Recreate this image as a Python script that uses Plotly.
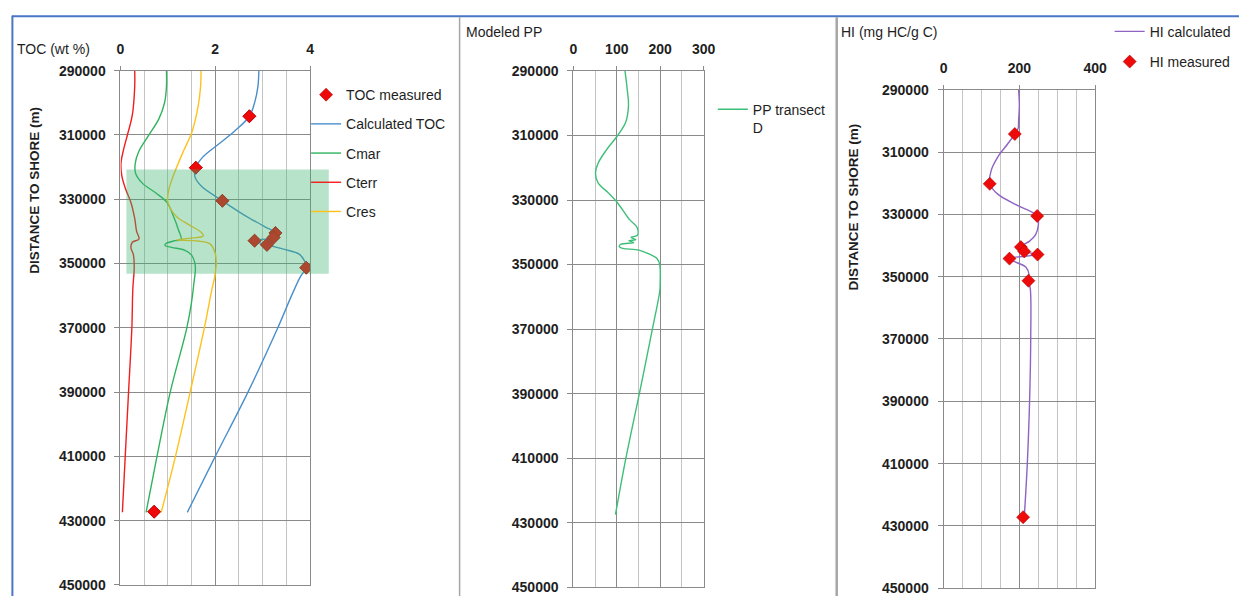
import plotly.graph_objects as go

W, H = 1251, 604

# ---------------- TOC panel ----------------
calc_toc_dist = [290000, 295000, 300000, 304200, 308800, 313000, 317000, 320200, 323000, 326000,
                 330500, 335000, 338500, 340500, 341900, 342900, 344200, 345600, 347100, 349100,
                 351300, 354000, 360000, 370000, 390000, 410000, 427400]
calc_toc = [2.92, 2.90, 2.83, 2.72, 2.41, 2.06, 1.73, 1.59, 1.57, 1.71,
            2.15, 2.62, 3.04, 3.27, 3.23, 2.83, 3.09, 3.46, 3.77, 3.88,
            3.92, 3.80, 3.61, 3.32, 2.69, 2.00, 1.41]

cmar_dist = [290000, 295000, 300000, 305000, 310000, 315000, 319000, 322000, 325000, 328000,
             331000, 335400, 339400, 342600, 342900, 343900, 344400, 345000, 345900, 347400,
             349900, 352000, 356000, 362000, 370000, 390000, 410000, 427400]
cmar = [0.97, 0.97, 0.93, 0.81, 0.60, 0.39, 0.31, 0.32, 0.46, 0.74,
        0.98, 1.12, 1.22, 1.28, 1.15, 0.95, 0.94, 1.08, 1.36, 1.50,
        1.57, 1.58, 1.55, 1.50, 1.40, 1.05, 0.77, 0.54]

cterr_dist = [290000, 295000, 303800, 309800, 314900, 318900, 322900, 326900, 331000, 336000,
              340000, 342400, 343400, 345100, 347100, 351100, 358000, 370000, 390000, 410000, 427400]
cterr = [0.30, 0.30, 0.25, 0.15, 0.06, 0.01, 0.03, 0.11, 0.22, 0.30,
         0.34, 0.39, 0.25, 0.22, 0.27, 0.29, 0.26, 0.24, 0.17, 0.10, 0.04]

cres_dist = [290000, 295000, 301000, 309000, 315000, 321000, 327000, 331000, 335400, 338000,
             340400, 341400, 342200, 342700, 343000, 343900, 346400, 349400, 354000, 358000,
             370000, 390000, 410000, 427400]
cres = [1.70, 1.69, 1.64, 1.51, 1.33, 1.16, 1.02, 1.00, 1.18, 1.45,
        1.71, 1.75, 1.43, 1.19, 1.64, 1.89, 1.99, 2.02, 1.99, 1.93,
        1.77, 1.47, 1.16, 0.86]

# sample locations shared by the measured TOC and HI values
sample_dist = [304200, 320200, 330500, 340500, 341900, 342900, 344200, 351300, 427200]
toc_measured = [2.72, 1.59, 2.15, 3.27, 3.23, 2.83, 3.09, 3.92, 0.71]

# ---------------- PP panel ----------------
pp_dist = [290000, 295600, 300700, 305700, 310000, 314500, 318600, 321700, 324700, 327700,
           330900, 336000, 338500, 341000, 341500, 342300, 342600, 343200, 343700, 344500,
           345000, 345500, 346700, 348200, 350100, 355200, 358200, 370000, 390000, 410000, 427500]
pp_transect_d = [119, 124, 127, 121, 102, 76, 57, 51, 57, 80,
                 102, 129, 147, 147, 133, 144, 128, 139, 109, 106,
                 114, 151, 174, 193, 199, 200, 199, 182, 152, 121, 97]

# ---------------- HI panel ----------------
hi_calc_dist = [290000, 295000, 300000, 302300, 304200, 307400, 311600, 315800, 320200, 323500,
                327100, 330500, 333500, 336500, 338500, 340500, 341900, 342900, 344200, 345400,
                346900, 349500, 351300, 354000, 370000, 390000, 410000, 427200]
hi_calc = [198, 200, 198, 197, 188, 169, 143, 126, 122, 143,
           195, 247, 250, 243, 228, 204, 213, 248, 174, 192,
           217, 226, 224, 229, 230, 227, 221, 213]
hi_measured = [188, 122, 247, 204, 213, 248, 174, 224, 210]

dist_ticks = [290000, 310000, 330000, 350000, 370000, 390000, 410000, 430000, 450000]
toc_ticks = [0, 2, 4]
pp_ticks = [0, 100, 200, 300]
hi_ticks = [0, 200, 400]


def px(x):
    return x / W


def py(y):
    return 1 - y / H


FONT = "Liberation Sans"
TXT = "#1e1e1e"
MAJOR_GRID = "#8a8a8a"
MINOR_GRID = "#c4c4c4"

RED = "#f21d1d"
BLUE = "#4a8fcc"
GREEN = "#2fb45e"
YELLOW = "#ffc21a"
PP_GREEN = "#3dbf78"
PURPLE = "#8e63c2"

fig = go.Figure()

line_kw = dict(mode="lines", line_shape="spline")
diamond = dict(symbol="diamond", size=10, color="#ee0a0a", line=dict(width=0.6, color="#b00000"))

fig.add_trace(go.Scatter(x=toc_measured, y=sample_dist, mode="markers", name="TOC measured",
                         marker=diamond, xaxis="x", yaxis="y", legend="legend", legendgroup="a"))
fig.add_trace(go.Scatter(x=calc_toc, y=calc_toc_dist, name="Calculated TOC",
                         line=dict(color=BLUE, width=1.4, smoothing=1), xaxis="x", yaxis="y",
                         legend="legend", legendgroup="b", **line_kw))
fig.add_trace(go.Scatter(x=cmar, y=cmar_dist, name="Cmar",
                         line=dict(color=GREEN, width=1.4, smoothing=1), xaxis="x", yaxis="y",
                         legend="legend", legendgroup="c", **line_kw))
fig.add_trace(go.Scatter(x=cterr, y=cterr_dist, name="Cterr",
                         line=dict(color=RED, width=1.4, smoothing=1), xaxis="x", yaxis="y",
                         legend="legend", legendgroup="d", **line_kw))
fig.add_trace(go.Scatter(x=cres, y=cres_dist, name="Cres",
                         line=dict(color=YELLOW, width=1.4, smoothing=1), xaxis="x", yaxis="y",
                         legend="legend", legendgroup="e", **line_kw))
# measured markers on top of the calculated curve
fig.add_trace(go.Scatter(x=toc_measured, y=sample_dist, mode="markers", showlegend=False,
                         marker=diamond, xaxis="x", yaxis="y", hoverinfo="skip"))

fig.add_trace(go.Scatter(x=pp_transect_d, y=pp_dist, name="PP transect<br>D",
                         line=dict(color=PP_GREEN, width=1.4, smoothing=1), xaxis="x2", yaxis="y2",
                         legend="legend2", **line_kw))

fig.add_trace(go.Scatter(x=hi_calc, y=hi_calc_dist, name="HI calculated",
                         line=dict(color=PURPLE, width=1.4, smoothing=1), xaxis="x3", yaxis="y3",
                         legend="legend3", legendgroup="h1", **line_kw))
fig.add_trace(go.Scatter(x=hi_measured, y=sample_dist, mode="markers", name="HI measured",
                         marker=diamond, xaxis="x3", yaxis="y3", legend="legend3", legendgroup="h2"))

tick_font = dict(family=FONT, size=14, color=TXT, weight="bold")


def xaxis(dom, rng, ticks, minor_step):
    return dict(domain=dom, range=rng, side="top", tickmode="array", tickvals=ticks,
                tickfont=tick_font, ticks="outside", ticklen=4, tickcolor=MAJOR_GRID,
                ticklabelstandoff=6,
                showgrid=True, gridcolor=MAJOR_GRID, gridwidth=1,
                minor=dict(tickmode="linear", tick0=0, dtick=minor_step, showgrid=True,
                           gridcolor=MINOR_GRID, gridwidth=1, ticks=""),
                showline=True, mirror=True, linecolor=MAJOR_GRID, linewidth=1,
                zeroline=False, fixedrange=True)


def yaxis(dom, anchor):
    return dict(domain=dom, anchor=anchor, range=[450000, 290000], tickmode="array",
                tickvals=dist_ticks, tickformat="d", tickfont=tick_font, ticks="outside",
                ticklen=5, tickcolor=MAJOR_GRID, ticklabelstandoff=6,
                showgrid=True, gridcolor=MAJOR_GRID, gridwidth=1,
                showline=True, mirror=True, linecolor=MAJOR_GRID, linewidth=1,
                zeroline=False, fixedrange=True)


legend_font = dict(family=FONT, size=14, color=TXT)

fig.update_layout(
    width=W, height=H, margin=dict(l=0, r=0, t=0, b=0),
    paper_bgcolor="white", plot_bgcolor="white",
    font=dict(family=FONT, size=14, color=TXT),
    xaxis=dict(anchor="y", **xaxis([px(118), px(310)], [0, 4], toc_ticks, 0.5)),
    yaxis=yaxis([py(592.7), py(64.3)], "x"),
    xaxis2=dict(anchor="y2", **xaxis([px(576.7), px(708.7)], [0, 300], pp_ticks, 50)),
    yaxis2=yaxis([py(595), py(64.7)], "x2"),
    xaxis3=dict(anchor="y3", **xaxis([px(951.7), px(1105.3)], [0, 400], hi_ticks, 50)),
    yaxis3=yaxis([py(596), py(84)], "x3"),
    legend=dict(x=px(306), y=py(73), xanchor="left", yanchor="top", bgcolor="rgba(0,0,0,0)",
                font=legend_font, tracegroupgap=8, traceorder="grouped"),
    legend2=dict(x=px(718), y=py(88), xanchor="left", yanchor="top", bgcolor="rgba(0,0,0,0)",
                 font=legend_font, valign="top"),
    legend3=dict(x=px(1120), y=py(8), xanchor="left", yanchor="top", bgcolor="rgba(0,0,0,0)",
                 font=legend_font, tracegroupgap=9, traceorder="grouped"),
    showlegend=True,
)

title_font = dict(family=FONT, size=14, color=TXT)
axis_title_font = dict(family=FONT, size=13.5, color=TXT, weight="bold")
fig.add_annotation(text="TOC (wt %)", x=px(11), y=py(42), xref="paper", yref="paper",
                   xanchor="left", yanchor="middle", showarrow=False, font=title_font)
fig.add_annotation(text="Modeled PP", x=px(466), y=py(25), xref="paper", yref="paper",
                   xanchor="left", yanchor="middle", showarrow=False, font=title_font)
fig.add_annotation(text="HI (mg HC/g C)", x=px(846), y=py(25), xref="paper", yref="paper",
                   xanchor="left", yanchor="middle", showarrow=False, font=title_font)
fig.add_annotation(text="DISTANCE TO SHORE (m)", x=px(30), y=py(187), xref="paper", yref="paper",
                   textangle=-90, xanchor="center", yanchor="middle", showarrow=False,
                   font=axis_title_font)
fig.add_annotation(text="DISTANCE TO SHORE (m)", x=px(861), y=py(204), xref="paper", yref="paper",
                   textangle=-90, xanchor="center", yanchor="middle", showarrow=False,
                   font=axis_title_font)

# highlighted interval over the TOC panel
fig.add_shape(type="rect", xref="paper", yref="paper", x0=px(124), x1=px(329),
              y0=py(273), y1=py(166), fillcolor="rgba(60,180,110,0.37)", line_width=0,
              layer="above")

# chart frames
fig.add_shape(type="line", xref="paper", yref="paper", x0=px(8), x1=1, y0=py(8.5), y1=py(8.5),
              line=dict(color="#4a76c4", width=2))
fig.add_shape(type="line", xref="paper", yref="paper", x0=px(8.5), x1=px(8.5), y0=0, y1=py(8),
              line=dict(color="#4a76c4", width=2))
fig.add_shape(type="line", xref="paper", yref="paper", x0=px(461.5), x1=px(461.5), y0=0, y1=py(9.5),
              line=dict(color="#a6a6a6", width=1.5))
fig.add_shape(type="line", xref="paper", yref="paper", x0=px(843.5), x1=px(843.5), y0=0, y1=py(9.5),
              line=dict(color="#a6a6a6", width=2.5))

fig.write_html("out.html")
